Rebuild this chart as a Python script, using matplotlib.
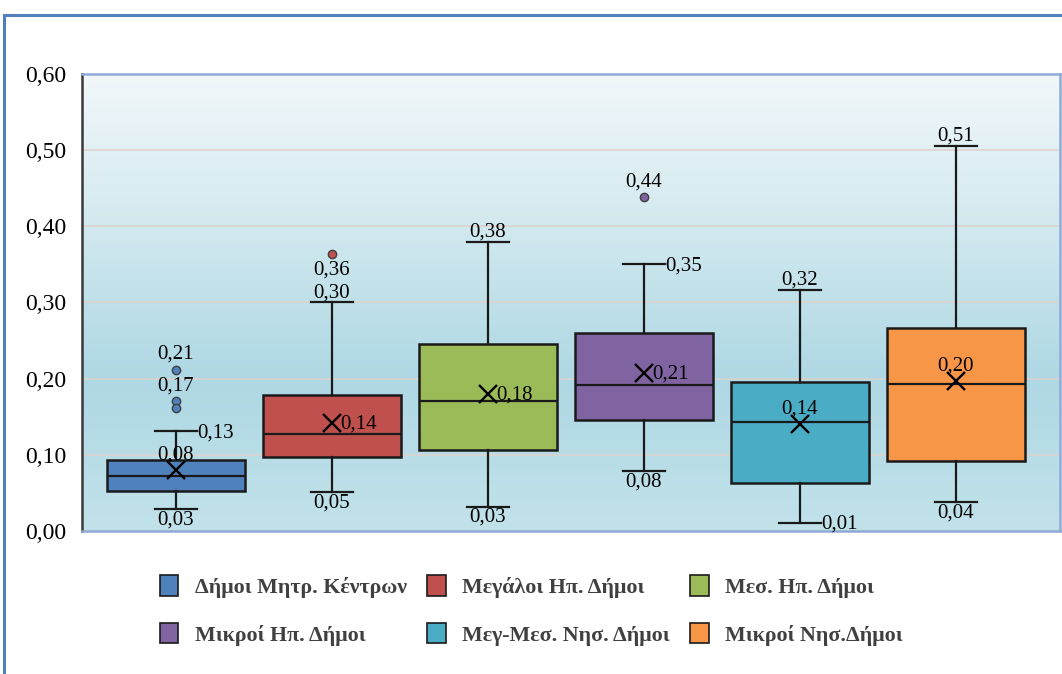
import numpy as np
import matplotlib
matplotlib.use("Agg")
import matplotlib.pyplot as plt
from matplotlib.patches import Rectangle, Patch

# Data
categories = ["Δήμοι Μητρ. Κέντρων", "Μεγάλοι Ηπ. Δήμοι", "Μεσ. Ηπ. Δήμοι",
              "Μικροί Ηπ. Δήμοι", "Μεγ-Μεσ. Νησ. Δήμοι", "Μικροί Νησ.Δήμοι"]
whislo = [0.029, 0.051, 0.032, 0.079, 0.011, 0.038]
q1 = [0.053, 0.097, 0.107, 0.146, 0.063, 0.092]
med = [0.072, 0.128, 0.171, 0.192, 0.143, 0.193]
q3 = [0.093, 0.179, 0.245, 0.260, 0.196, 0.267]
whishi = [0.131, 0.300, 0.380, 0.350, 0.317, 0.506]
means = [0.080, 0.142, 0.180, 0.208, 0.140, 0.197]
outliers = [[0.212, 0.171, 0.162], [0.364], [], [0.438], [], []]
colors = ["#4f81bd", "#c0504d", "#9bbb59", "#8064a2", "#4bacc6", "#f79646"]

# label placement per box: (lower whisker, upper whisker, mean)
lo_pos = ["below", "below", "below", "below", "right", "below"]
hi_pos = ["right", "above", "above", "right", "above", "above"]
mean_pos = ["above", "right", "right", "right", "above", "above"]
# outlier labels: (value, placement)
outlier_labels = [[(0.212, "above"), (0.171, "above")], [(0.364, "below")], [], [(0.438, "above")], [], []]

yticks = [0.0, 0.1, 0.2, 0.3, 0.4, 0.5, 0.6]

serif = ["Liberation Serif", "DejaVu Serif"]
fs = 15

def fmt(v):
    return f"{v:.2f}".replace(".", ",")

fig = plt.figure(figsize=(10.62, 6.74), dpi=100)
fig.patch.set_facecolor("white")

# outer chart frame
fig.patches.append(Rectangle((4 / 1062, -0.05), 1.2, (674 - 15) / 674 + 0.05,
                             transform=fig.transFigure, fill=False,
                             edgecolor="#4f81bd", linewidth=2.2))

ax = fig.add_axes([82 / 1062, (674 - 531) / 674, (1060 - 82) / 1062, (531 - 74) / 674])

# gradient background
grad = np.linspace(0, 1, 256).reshape(-1, 1)
cmap = matplotlib.colors.LinearSegmentedColormap.from_list(
    "bg", ["#c2e2ea", "#aed8e4", "#d2e9ef", "#f2f8fa"], N=256)
ax.imshow(grad, aspect="auto", cmap=cmap, origin="lower",
          extent=[0, 10, 0, 0.6], zorder=0)

n = len(categories)
positions = np.arange(1, n + 1)
stats = []
for i in range(n):
    stats.append(dict(whislo=whislo[i], q1=q1[i], med=med[i], q3=q3[i],
                      whishi=whishi[i], mean=means[i], fliers=outliers[i]))

bp = ax.bxp(stats, positions=positions, widths=0.89, patch_artist=True,
            showmeans=True, capwidths=0.27,
            meanprops=dict(marker="x", markeredgecolor="black", markersize=13,
                           markeredgewidth=1.7),
            medianprops=dict(color="#1a1a1a", linewidth=1.6),
            whiskerprops=dict(color="#1a1a1a", linewidth=1.6),
            capprops=dict(color="#1a1a1a", linewidth=1.6),
            boxprops=dict(edgecolor="#1a1a1a", linewidth=1.8),
            flierprops=dict(marker="o", markersize=6, markeredgecolor="#404040"),
            zorder=3)
for i, box in enumerate(bp["boxes"]):
    box.set_facecolor(colors[i])
for i, fl in enumerate(bp["fliers"]):
    fl.set_markerfacecolor(colors[i])


def put_label(x, y, text, where, xoff=0.0):
    if where == "above":
        ax.annotate(text, (x, y), xytext=(0, 0), textcoords="offset points",
                    ha="center", va="bottom", fontsize=fs, family=serif, zorder=5)
    elif where == "below":
        ax.annotate(text, (x, y), xytext=(0, -1), textcoords="offset points",
                    ha="center", va="top", fontsize=fs, family=serif, zorder=5)
    else:
        ax.annotate(text, (x + xoff, y), xytext=(0, -1), textcoords="offset points",
                    ha="left", va="center", fontsize=fs, family=serif, zorder=5)


for i, p in enumerate(positions):
    put_label(p, whislo[i], fmt(whislo[i]), lo_pos[i], xoff=0.135)
    put_label(p, whishi[i], fmt(whishi[i]), hi_pos[i], xoff=0.135)
    if mean_pos[i] == "above":
        ax.annotate(fmt(means[i]), (p, means[i]), xytext=(0, 4), textcoords="offset points",
                    ha="center", va="bottom", fontsize=fs, family=serif, zorder=5)
    else:
        put_label(p, means[i], fmt(means[i]), "right", xoff=0.055)
    for v, where in outlier_labels[i]:
        if where == "above":
            ax.annotate(fmt(v), (p, v), xytext=(0, 4), textcoords="offset points",
                        ha="center", va="bottom", fontsize=fs, family=serif, zorder=5)
        else:
            ax.annotate(fmt(v), (p, v), xytext=(0, -5), textcoords="offset points",
                        ha="center", va="top", fontsize=fs, family=serif, zorder=5)

ax.set_xlim(1 - 94 / 156, 6 + 104 / 156)
ax.set_ylim(0, 0.6)
ax.set_yticks(yticks)
ax.set_yticklabels([fmt(v) for v in yticks], family=serif, fontsize=17)
ax.set_xticks([])
ax.tick_params(axis="y", length=0, pad=11)
ax.yaxis.grid(True, color="#ddd3cf", linewidth=1.2, zorder=1)
ax.set_axisbelow(True)
for s in ax.spines.values():
    s.set_color("#8eaad6")
    s.set_linewidth(1.8)
ax.spines["left"].set_color("#3a3a3a")

# legend, filled row by row like the original (matplotlib fills by column)
order = [0, 3, 1, 4, 2, 5]
handles = [Patch(facecolor=colors[k], edgecolor="#1a1a1a", linewidth=1.2) for k in order]
labels = [categories[k] for k in order]
leg = fig.legend(handles, labels, loc="upper left", ncol=3,
                 bbox_to_anchor=(160 / 1062, 1 - 575 / 674), frameon=False,
                 prop=dict(family=serif, size=15.8, weight="bold"),
                 borderpad=0, borderaxespad=0,
                 handlelength=0.84, handleheight=1.07, handletextpad=0.75,
                 columnspacing=0.93, labelspacing=1.14)
for t in leg.get_texts():
    t.set_color("#404040")

fig.savefig("out.png", dpi=100)
